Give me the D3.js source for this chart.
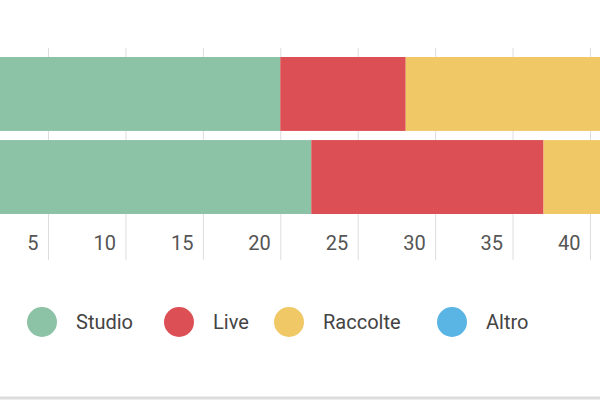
<!DOCTYPE html>
<html><head><meta charset="utf-8">
<script src="https://cdn.jsdelivr.net/npm/d3@7"></script>
<style>
body { margin: 0; background: #fff; }
text { font-family: Roboto, sans-serif; }
</style></head>
<body>
<div id="chart"></div>
<script>
const rows = ['Riga 1', 'Riga 2'];
const series = ['Studio', 'Live', 'Raccolte', 'Altro'];
const colors = ['#8cc2a5', '#dc4f55', '#f0c866', '#5ab4e4'];
const studio = [20, 22];
const live = [8.1, 15];
const raccolte = [14, 12];
const altro = [0, 0];
const ticks = [5, 10, 15, 20, 25, 30, 35, 40];

let data = rows.map(function (r, i) {
    return {row: r, Studio: studio[i], Live: live[i], Raccolte: raccolte[i], Altro: altro[i]};
});

let svg = d3.select('#chart').append('svg')
    .attr('width', 600).attr('height', 400);

// the chart is cropped on the left: zero sits off-screen
let x = d3.scaleLinear().domain([0, 40]).range([-29.4, 590]);
let y = d3.scaleBand().domain(rows).range([57, 214]).paddingInner(0.11);

let xAxis = d3.axisBottom(x).tickValues(ticks)
    .tickSizeInner(-212).tickSizeOuter(0).tickFormat('');

let grid = svg.append('g').attr('transform', 'translate(0,260)').call(xAxis);
grid.select('.domain').remove();
grid.selectAll('line').attr('stroke', '#ddd');

grid.selectAll('.tick').append('text')
    .attr('x', -10).attr('y', -17)
    .attr('text-anchor', 'end')
    .attr('dy', '0.35em')
    .attr('fill', '#555')
    .style('font-size', '20px')
    .text(function (d) { return d; });

let stacked = d3.stack().keys(series)(data);
let color = d3.scaleOrdinal().domain(series).range(colors);

svg.append('g').selectAll('g').data(stacked).enter()
    .append('g').attr('fill', function (d) { return color(d.key); })
    .selectAll('rect').data(function (d) { return d; }).enter()
    .append('rect')
    .attr('x', function (d) { return x(d[0]); })
    .attr('width', function (d) { return x(d[1]) - x(d[0]); })
    .attr('y', function (d) { return y(d.data.row); })
    .attr('height', y.bandwidth());

// legend
let legendX = [42, 179, 289, 452];
let legend = svg.append('g').selectAll('g').data(series).enter()
    .append('g')
    .attr('transform', function (d, i) { return 'translate(' + legendX[i] + ',322)'; });
legend.append('circle').attr('r', 15).attr('fill', function (d) { return color(d); });
legend.append('text')
    .attr('x', 34).attr('dy', '0.35em')
    .attr('fill', '#444')
    .style('font-size', '20px')
    .text(function (d) { return d; });

svg.append('line')
    .attr('x1', 0).attr('x2', 600).attr('y1', 398).attr('y2', 398)
    .attr('stroke', '#ddd').attr('stroke-width', 3);
</script>
</body></html>
